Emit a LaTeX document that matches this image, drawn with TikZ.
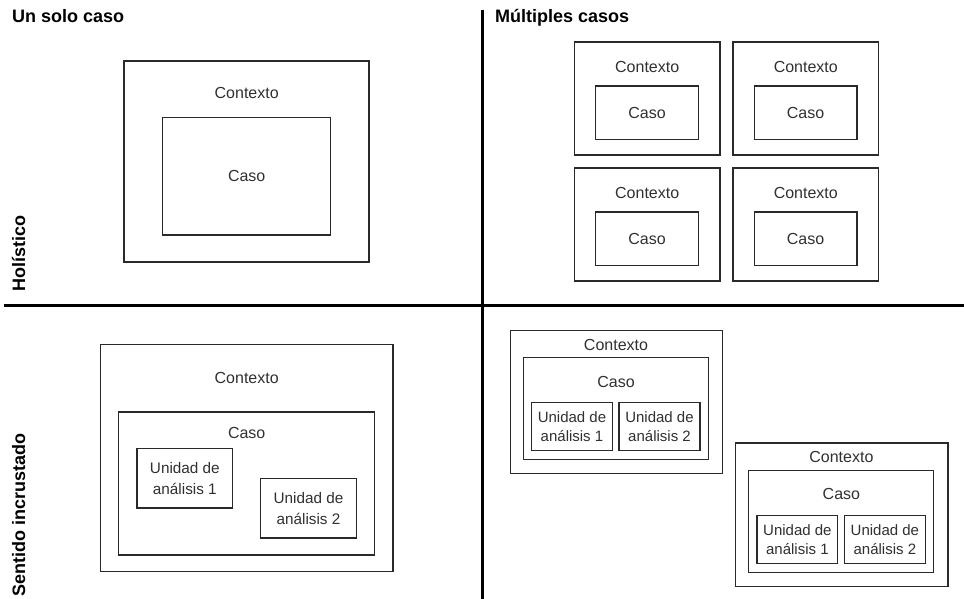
\documentclass[tikz,border=0pt]{standalone}
\usepackage{fontspec}
\setmainfont{Liberation Sans}
\definecolor{ink}{HTML}{2A2A2A}
\definecolor{txt}{HTML}{303030}
\begin{document}
\begin{tikzpicture}[x=1pt,y=-1pt,
  bx/.style={draw=ink,line width=1.3pt,rectangle,inner sep=0pt,outer sep=0pt,text=txt,align=center,
    font=\fontsize{16}{20.7}\selectfont},
  ubx/.style={bx,font=\fontsize{15.3}{20.7}\selectfont},
  sbx/.style={bx,font=\fontsize{15}{18.6}\selectfont},
  lbl/.style={inner sep=0pt,text=txt,font=\fontsize{16}{20}\selectfont},
  ttl/.style={inner sep=0pt,anchor=base west,font=\fontsize{18}{20}\selectfont\bfseries},
  divider/.style={line width=2.6pt,black}]
\useasboundingbox (0,0) rectangle (964,599);

% dividers
\coordinate (vtop) at (482.5,10);
\coordinate (vbot) at (482.5,599);
\coordinate (hl) at (4,305.5);
\coordinate (hr) at (964,305.5);
\draw[divider] (vtop) -- (vbot);
\draw[divider] (hl) -- (hr);

% titles
\node[ttl] (t1) at (12,23) {Un solo caso};
\node[ttl] (t2) at (495,23) {Múltiples casos};
\node[ttl,rotate=90] (s1) at (25,292) {Holístico};
\node[ttl,rotate=90] (s2) at (25,597) {Sentido incrustado};

% top-left: single holistic
\node[bx,minimum width=245,minimum height=201] (ctxA) at (246.5,161.5) {};
\node[lbl] (ctxAl) at (246.7,92.7) {Contexto};
\node[bx,minimum width=168,minimum height=117.7] (casoA) at (246.7,176.2) {Caso};

% top-right: multiple holistic
\foreach \cx/\cy/\n in {647.2/98.5/a, 805.8/98.5/b, 647.2/224.5/c, 805.8/224.5/d}{
  \node[bx,minimum width=145.7,minimum height=113] (ctx\n) at (\cx,\cy) {};
  \node[lbl] (ctxl\n) at (\cx,\cy-31.8) {Contexto};
  \node[bx,minimum width=102.6,minimum height=53.7] (caso\n) at (\cx-0.2,\cy+14.3) {Caso};
}

% bottom-left: single embedded
\node[bx,minimum width=292.7,minimum height=227.4] (ctxE) at (246.7,458) {};
\node[lbl] (ctxEl) at (246.7,377.7) {Contexto};
\node[bx,minimum width=255.6,minimum height=143] (casoE) at (246.5,483.5) {};
\node[lbl] (casoEl) at (246.7,432.7) {Caso};
\node[ubx,minimum width=95.7,minimum height=59.3] (uE1) at (184.85,478.35) {Unidad de\\análisis 1};
\node[ubx,minimum width=95.7,minimum height=59.3] (uE2) at (308.5,508.35) {Unidad de\\análisis 2};

% bottom-right: multiple embedded
\foreach \dx/\dy/\n in {0/0/p, 225.4/112.7/q}{
  \node[bx,minimum width=212.4,minimum height=143.4] (ctxM\n) at (616.5+\dx,402+\dy) {};
  \node[lbl] (ctxMl\n) at (616+\dx,344.7+\dy) {Contexto};
  \node[bx,minimum width=185,minimum height=102] (casoM\n) at (615.8+\dx,408.7+\dy) {};
  \node[lbl] (casoMl\n) at (616+\dx,381.7+\dy) {Caso};
  \node[sbx,minimum width=80.6,minimum height=48] (uM\n1) at (572+\dx,426.7+\dy) {Unidad de\\análisis 1};
  \node[sbx,minimum width=81,minimum height=48] (uM\n2) at (659.5+\dx,426.7+\dy) {Unidad de\\análisis 2};
}
\end{tikzpicture}
\end{document}
